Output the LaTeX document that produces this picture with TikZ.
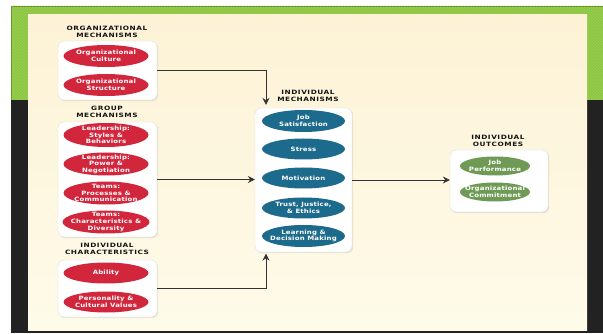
\documentclass[tikz,border=0pt]{standalone}
\usepackage{fontspec}
\usetikzlibrary{shapes.geometric,arrows.meta,shadows,patterns}
\newfontfamily\ellfont[FakeStretch=1.18,LetterSpace=3]{DejaVu Sans}
\newfontfamily\titfont[FakeStretch=1.25,LetterSpace=9]{DejaVu Sans}
\definecolor{bandgreen}{HTML}{8CC63E}
\definecolor{bandedge}{HTML}{6A9A28}
\definecolor{darkbg}{HTML}{222222}
\definecolor{creamtop}{HTML}{FDF2D6}
\definecolor{creambot}{HTML}{FEFBE9}
\definecolor{ellred}{HTML}{D2263C}
\definecolor{ellblue}{HTML}{1D6B8C}
\definecolor{ellgreen}{HTML}{6E9A55}
\definecolor{linegray}{HTML}{333333}
\tikzset{
  panelbox/.style={draw=gray!25, line width=0.4pt, fill=white, rounded corners=6pt, inner sep=0pt,
    drop shadow={opacity=0.18, shadow xshift=1.2pt, shadow yshift=-1.2pt}},
  ell/.style={ellipse, inner xsep=-14pt, inner ysep=-9pt, text=white, align=center,
    font=\ellfont\bfseries\fontsize{5.9}{6.6}\selectfont},
  redell/.style={ell, fill=ellred, minimum width=85pt, minimum height=22pt},
  blueell/.style={ell, fill=ellblue, minimum width=83pt, minimum height=21pt},
  greenell/.style={ell, fill=ellgreen, minimum width=70pt, minimum height=19pt},
  title/.style={align=center, inner sep=0pt, text=black!92,
    font=\titfont\bfseries\fontsize{5.9}{6.4}\selectfont},
  conn/.style={draw=linegray, line width=0.6pt, -{Stealth[length=7pt,width=7pt,inset=2.5pt]}}
}
\begin{document}
\begin{tikzpicture}[x=1pt,y=-1pt]
\useasboundingbox (0,0) rectangle (603,334);
\fill[white] (0,0) rectangle (603,334);
% background bands
\fill[bandgreen] (11,6) rectangle (603,100);
\fill[pattern=north east lines, pattern color=white!30!bandgreen, opacity=0.5] (11,6) rectangle (603,100);
\draw[bandedge, line width=1pt] (11.5,100) -- (11.5,6.5) -- (603,6.5);
\fill[darkbg] (11,100) rectangle (603,333);
\shade[top color=creamtop, bottom color=creambot] (28,15) rectangle (587,330);

% left column boxes
\node[panelbox, minimum width=99pt, minimum height=59pt] (org) at (107.5,70.5) {};
\node[panelbox, minimum width=99pt, minimum height=115pt] (grp) at (107.5,179.5) {};
\node[panelbox, minimum width=99pt, minimum height=57pt] (chr) at (107.5,288.5) {};
% centre and right boxes
\node[panelbox, minimum width=97pt, minimum height=144pt] (imech) at (303.5,180) {};
\node[panelbox, minimum width=98pt, minimum height=62pt] (outc) at (499,181) {};

% titles
\node[title] (torg) at (107,32) {ORGANIZATIONAL\\MECHANISMS};
\node[title] (tgrp) at (107,112) {GROUP\\MECHANISMS};
\node[title] (tchr) at (107,249) {INDIVIDUAL\\CHARACTERISTICS};
\node[title] (timech) at (308,96) {INDIVIDUAL\\MECHANISMS};
\node[title] (toutc) at (498,141) {INDIVIDUAL\\OUTCOMES};

% organizational mechanisms
\node[redell] (culture) at (106,56) {Organizational\\Culture};
\node[redell] (structure) at (106,85) {Organizational\\Structure};
% group mechanisms
\node[redell, minimum height=24pt] (lss) at (106,135) {Leadership:\\Styles \&\\Behaviors};
\node[redell, minimum height=23pt] (lpn) at (106,164) {Leadership:\\Power \&\\Negotiation};
\node[redell, minimum height=23pt] (tpc) at (106,193) {Teams:\\Processes \&\\Communication};
\node[redell, minimum height=23pt, minimum width=87pt] (tcd) at (106,222) {Teams:\\Characteristics \&\\Diversity};
% individual characteristics
\node[redell, minimum height=21pt] (ability) at (106,273) {Ability};
\node[redell, minimum height=21pt] (pers) at (106,302) {Personality \&\\Cultural Values};
% individual mechanisms
\node[blueell, minimum height=22pt] (jobsat) at (303.5,121) {Job\\Satisfaction};
\node[blueell] (stress) at (303.5,149) {Stress};
\node[blueell] (motiv) at (303.5,178) {Motivation};
\node[blueell] (trust) at (303.5,208) {Trust, Justice,\\\& Ethics};
\node[blueell, minimum height=22pt] (learn) at (303.5,236) {Learning \&\\Decision Making};
% outcomes
\node[greenell] (jobperf) at (495,166) {Job\\Performance};
\node[greenell] (orgcom) at (495,192) {Organizational\\Commitment};

% connectors
\draw[conn] (org.east) -| ([xshift=-37.5pt,yshift=3pt]imech.north);
\draw[conn] (grp.east) -- (grp.east -| imech.west);
\draw[conn] (chr.east) -| ([xshift=-37.5pt,yshift=-1.5pt]imech.south);
\draw[conn] (imech.east) -- (imech.east -| outc.west);
\end{tikzpicture}
\end{document}
